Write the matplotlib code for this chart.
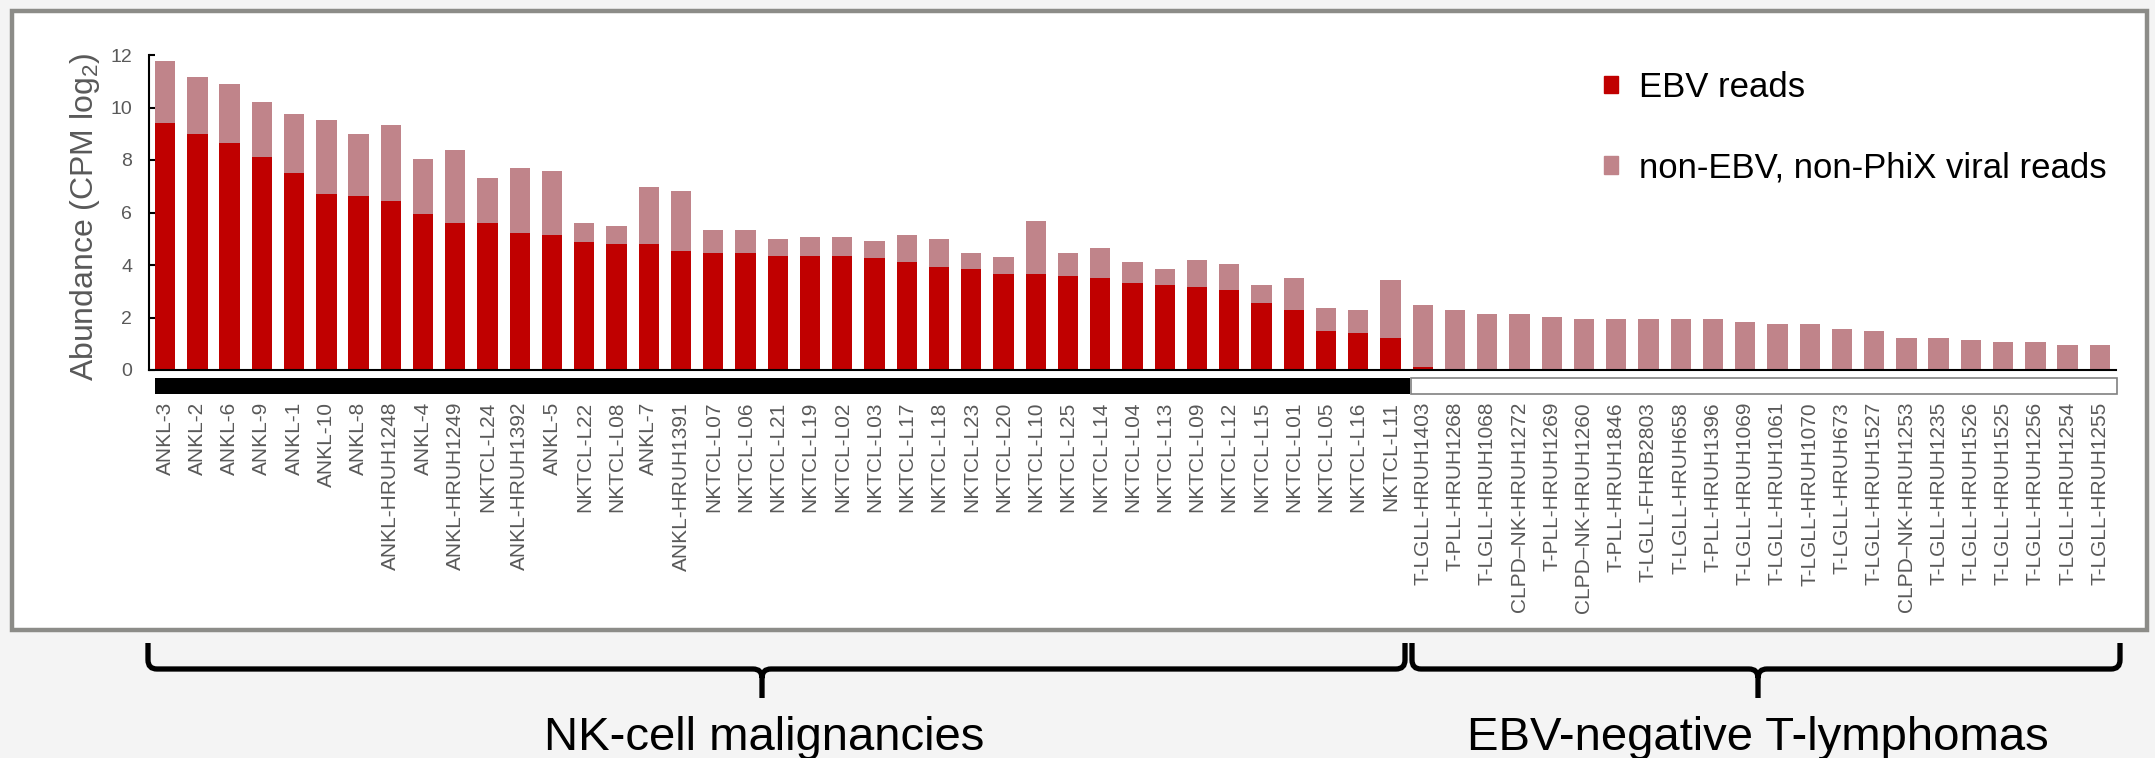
import matplotlib
matplotlib.use('Agg')
import matplotlib.pyplot as plt
from matplotlib.patches import Rectangle, Patch, PathPatch
from matplotlib.path import Path
import numpy as np

plt.rcParams['font.family'] = ['Liberation Sans', 'DejaVu Sans']
plt.rcParams['mathtext.default'] = 'regular'

# sample names, NK-cell group first, then EBV-negative T group
nk_samples = ['ANKL-3', 'ANKL-2', 'ANKL-6', 'ANKL-9', 'ANKL-1', 'ANKL-10', 'ANKL-8',
              'ANKL-HRUH1248', 'ANKL-4', 'ANKL-HRUH1249', 'NKTCL-L24', 'ANKL-HRUH1392',
              'ANKL-5', 'NKTCL-L22', 'NKTCL-L08', 'ANKL-7', 'ANKL-HRUH1391', 'NKTCL-L07',
              'NKTCL-L06', 'NKTCL-L21', 'NKTCL-L19', 'NKTCL-L02', 'NKTCL-L03', 'NKTCL-L17',
              'NKTCL-L18', 'NKTCL-L23', 'NKTCL-L20', 'NKTCL-L10', 'NKTCL-L25', 'NKTCL-L14',
              'NKTCL-L04', 'NKTCL-L13', 'NKTCL-L09', 'NKTCL-L12', 'NKTCL-L15', 'NKTCL-L01',
              'NKTCL-L05', 'NKTCL-L16', 'NKTCL-L11']
t_samples = ['T-LGLL-HRUH1403', 'T-PLL-HRUH1268', 'T-LGLL-HRUH1068', 'CLPD–NK-HRUH1272',
             'T-PLL-HRUH1269', 'CLPD–NK-HRUH1260', 'T-PLL-HRUH1846', 'T-LGLL-FHRB2803',
             'T-LGLL-HRUH658', 'T-PLL-HRUH1396', 'T-LGLL-HRUH1069', 'T-LGLL-HRUH1061',
             'T-LGLL-HRUH1070', 'T-LGLL-HRUH673', 'T-LGLL-HRUH1527', 'CLPD–NK-HRUH1253',
             'T-LGLL-HRUH1235', 'T-LGLL-HRUH1526', 'T-LGLL-HRUH1525', 'T-LGLL-HRUH1256',
             'T-LGLL-HRUH1254', 'T-LGLL-HRUH1255']

# EBV reads (log2 CPM)
ebv_nk = [9.41, 8.99, 8.63, 8.13, 7.50, 6.70, 6.63, 6.45, 5.94, 5.59, 5.59, 5.23, 5.14,
          4.88, 4.80, 4.80, 4.55, 4.46, 4.46, 4.36, 4.36, 4.36, 4.28, 4.10, 3.94, 3.85,
          3.67, 3.67, 3.59, 3.50, 3.33, 3.24, 3.15, 3.06, 2.54, 2.27, 1.49, 1.41, 1.22]
ebv_t = [0.10] + [0.0] * 21

# total bar height (EBV + other viral)
total_nk = [11.77, 11.16, 10.91, 10.21, 9.77, 9.51, 8.99, 9.33, 8.03, 8.37, 7.33, 7.68,
            7.59, 5.59, 5.50, 6.98, 6.81, 5.33, 5.33, 4.99, 5.07, 5.07, 4.90, 5.16, 4.99,
            4.46, 4.29, 5.68, 4.46, 4.63, 4.10, 3.85, 4.20, 4.03, 3.24, 3.50, 2.36, 2.29,
            3.42]
total_t = [2.46, 2.29, 2.12, 2.12, 2.02, 1.93, 1.93, 1.93, 1.93, 1.93, 1.84, 1.75, 1.75,
           1.57, 1.49, 1.23, 1.23, 1.14, 1.05, 1.05, 0.97, 0.97]

samples = nk_samples + t_samples
ebv = np.array(ebv_nk + ebv_t)
other = np.array(total_nk + total_t) - ebv

RED = '#C00000'
PINK = '#C0848A'
GREY = '#595959'

W, H = 2155, 758
fig = plt.figure(figsize=(W / 100, H / 100), dpi=100)
fig.patch.set_facecolor('#f4f4f4')

def fx(px):
    return px / W

def fy(py):
    return 1 - py / H

# white panel with grey frame
fig.patches.append(Rectangle((fx(12), fy(630)), fx(2147) - fx(12), fy(11) - fy(630),
                             transform=fig.transFigure, facecolor='white',
                             edgecolor='#8c8c88', lw=3.2, zorder=-5))

ax = fig.add_axes([fx(149), fy(370), fx(2116) - fx(149), fy(55) - fy(370)])
ax.set_facecolor('none')

x = np.arange(len(samples))
ax.bar(x, ebv, width=0.63, color=RED, label='EBV reads')
ax.bar(x, other, width=0.63, bottom=ebv, color=PINK,
       label='non-EBV, non-PhiX viral reads')

ax.set_xlim(-0.5, len(samples) - 0.5)
ax.set_ylim(0, 12)
ax.set_yticks(np.arange(0, 13, 2))
ax.set_xticks(x)
ax.set_xticklabels(samples, rotation=90, fontsize=15, color=GREY)
ax.tick_params(axis='x', length=0, pad=23)
ax.tick_params(axis='y', direction='in', length=4, width=1.5, pad=12,
               labelsize=14, labelcolor=GREY)
for s in ['top', 'right']:
    ax.spines[s].set_visible(False)
for s in ['left', 'bottom']:
    ax.spines[s].set_linewidth(1.5)

# group strip under the axis
n_nk = len(nk_samples)
strip_y, strip_h = -0.914, 0.61
ax.add_patch(Rectangle((-0.31, strip_y), n_nk - 0.4 + 0.31, strip_h,
                       facecolor='black', edgecolor='none', clip_on=False))
ax.add_patch(Rectangle((n_nk - 0.35, strip_y), len(samples) - 0.47 - (n_nk - 0.35),
                       strip_h, facecolor='white', edgecolor='#808080', lw=1.2,
                       clip_on=False))

fig.text(fx(85), fy(217), 'Abundance (CPM log$_2$)', rotation=90, ha='center',
         va='center', fontsize=23, color=GREY)

handles = [Patch(color=RED), Patch(color=PINK)]
fig.legend(handles, ['EBV reads', 'non-EBV, non-PhiX viral reads'],
           loc='upper left', bbox_to_anchor=(fx(1604), fy(71)), frameon=False,
           fontsize=25, handlelength=0.4, handleheight=0.4, handletextpad=0.6,
           labelspacing=1.37, borderpad=0, borderaxespad=0)

def brace(x0, x1, xt, ytop=643, ymid=669, ytip=698, r=9):
    pts = [(x0, ytop), (x0, ymid - r), (x0, ymid), (x0 + r, ymid),
           (xt - r, ymid), (xt, ymid), (xt, ymid + r), (xt, ytip),
           (x1, ytop), (x1, ymid - r), (x1, ymid), (x1 - r, ymid),
           (xt + r, ymid), (xt, ymid), (xt, ymid + r)]
    codes = [Path.MOVETO, Path.LINETO, Path.CURVE3, Path.CURVE3,
             Path.LINETO, Path.CURVE3, Path.CURVE3, Path.LINETO,
             Path.MOVETO, Path.LINETO, Path.CURVE3, Path.CURVE3,
             Path.LINETO, Path.CURVE3, Path.CURVE3]
    verts = [(fx(a), fy(b)) for a, b in pts]
    fig.patches.append(PathPatch(Path(verts, codes), transform=fig.transFigure,
                                 facecolor='none', edgecolor='black', lw=3.8,
                                 capstyle='butt'))

brace(148, 1405, 762)
brace(1412, 2120, 1758)

fig.text(fx(764), fy(750), 'NK-cell malignancies', ha='center', va='baseline',
         fontsize=34, color='black')
fig.text(fx(1758), fy(750), 'EBV-negative T-lymphomas', ha='center', va='baseline',
         fontsize=34, color='black')

fig.savefig('out.png', dpi=100, facecolor=fig.get_facecolor())
